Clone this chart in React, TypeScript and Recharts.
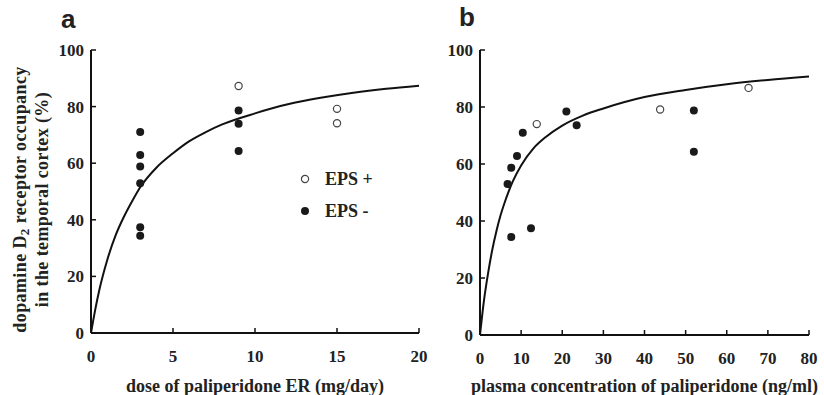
import { ComposedChart, Line, Scatter, XAxis, YAxis, Legend } from "recharts";

// panel a: dose of paliperidone ER (mg/day) vs D2 occupancy (%)
const doseEpsPlus = [
  { x: 9, y: 87.3 },
  { x: 15, y: 79.2 },
  { x: 15, y: 74.1 },
];
const doseEpsMinus = [
  { x: 3, y: 71.0 },
  { x: 3, y: 62.9 },
  { x: 3, y: 58.8 },
  { x: 3, y: 52.9 },
  { x: 3, y: 37.4 },
  { x: 3, y: 34.4 },
  { x: 9, y: 78.6 },
  { x: 9, y: 73.9 },
  { x: 9, y: 64.3 },
];
// fitted curve
const doseCurve = [
  { x: 0, y: 0 },
  { x: 0.25, y: 8 },
  { x: 0.5, y: 15 },
  { x: 1, y: 26 },
  { x: 1.5, y: 34.5 },
  { x: 2, y: 41 },
  { x: 2.5, y: 46.5 },
  { x: 3, y: 51.5 },
  { x: 4, y: 58.5 },
  { x: 5, y: 63.5 },
  { x: 6, y: 67.8 },
  { x: 7, y: 71 },
  { x: 8, y: 73.7 },
  { x: 10, y: 77.6 },
  { x: 12, y: 80.8 },
  { x: 14, y: 83.1 },
  { x: 16, y: 84.9 },
  { x: 18, y: 86.3 },
  { x: 20, y: 87.4 },
];
const doseTicks = [0, 5, 10, 15, 20];

// panel b: plasma concentration (ng/ml) vs D2 occupancy (%)
const plasmaEpsPlus = [
  { x: 13.8, y: 74 },
  { x: 43.8, y: 79.1 },
  { x: 65.3, y: 86.7 },
];
const plasmaEpsMinus = [
  { x: 6.7, y: 53 },
  { x: 7.6, y: 58.7 },
  { x: 9.0, y: 62.8 },
  { x: 10.4, y: 71 },
  { x: 7.6, y: 34.4 },
  { x: 12.4, y: 37.5 },
  { x: 21.0, y: 78.4 },
  { x: 23.5, y: 73.6 },
  { x: 52.0, y: 78.8 },
  { x: 52.0, y: 64.3 },
];
const plasmaCurve = [
  { x: 0, y: 0 },
  { x: 1, y: 12.5 },
  { x: 2, y: 22 },
  { x: 3, y: 30 },
  { x: 4, y: 36.5 },
  { x: 5, y: 42 },
  { x: 6, y: 46.5 },
  { x: 7, y: 50.5 },
  { x: 8, y: 54 },
  { x: 10, y: 59.5 },
  { x: 13, y: 65.5 },
  { x: 16, y: 69.5 },
  { x: 20, y: 73.5 },
  { x: 25, y: 77 },
  { x: 30, y: 79.5 },
  { x: 40, y: 83.5 },
  { x: 50, y: 86 },
  { x: 60, y: 88 },
  { x: 70, y: 89.5 },
  { x: 80, y: 90.7 },
];
const plasmaTicks = [0, 10, 20, 30, 40, 50, 60, 70, 80];
const occupancyTicks = [0, 20, 40, 60, 80, 100];

const FONT = "'Liberation Serif', 'Times New Roman', serif";
const textStyle = { fontFamily: FONT, fontSize: 17, fontWeight: 700, fill: "#222" } as any;
const titleStyle = { ...textStyle, fontSize: 18 };
const axisLine = { stroke: "#111", strokeWidth: 2 };
const tickLine = { stroke: "#111", strokeWidth: 1.5 };

const XTick = (p: any) => (
  <text x={p.x} y={p.y} dy="0.71em" textAnchor="middle" style={textStyle}>
    {p.payload.value}
  </text>
);
const YTick = (p: any) => (
  <text x={p.x} y={p.y} dy="0.355em" textAnchor="end" style={textStyle}>
    {p.payload.value}
  </text>
);

const OpenDot = (p: any) => (
  <circle cx={p.cx} cy={p.cy} r={3.6} fill="#fff" stroke="#444" strokeWidth={1.2} />
);
const FilledDot = (p: any) => <circle cx={p.cx} cy={p.cy} r={4} fill="#1a1a1a" />;

function YLabel(props: any) {
  const vb = props.viewBox;
  const cy = vb.y + vb.height / 2 + 8;
  const style = { ...textStyle, fontSize: 18, letterSpacing: 0.4 };
  return (
    <g>
      <text x={20} y={cy} transform={`rotate(-90, 20, ${cy})`} textAnchor="middle" dominantBaseline="central" style={style}>
        dopamine D<tspan dy={4} fontSize={13}>2</tspan>
        <tspan dy={-4}> receptor occupancy</tspan>
      </text>
      <text x={42} y={cy} transform={`rotate(-90, 42, ${cy})`} textAnchor="middle" dominantBaseline="central" style={style}>
        in the temporal cortex (%)
      </text>
    </g>
  );
}

function LegendBox() {
  const rowStyle = { display: "flex", alignItems: "center", height: 32 };
  const labelStyle = { fontFamily: FONT, fontSize: 18, fontWeight: 700, color: "#222", marginLeft: 15 };
  return (
    <div>
      <div style={rowStyle}>
        <svg width={10} height={10}>
          <circle cx={5} cy={5} r={3.6} fill="#fff" stroke="#444" strokeWidth={1.2} />
        </svg>
        <span style={labelStyle}>EPS +</span>
      </div>
      <div style={rowStyle}>
        <svg width={10} height={10}>
          <circle cx={5} cy={5} r={4} fill="#1a1a1a" />
        </svg>
        <span style={labelStyle}>EPS -</span>
      </div>
    </div>
  );
}

const panelLetter = {
  position: "absolute" as const,
  fontFamily: "'Liberation Sans', Arial, sans-serif",
  fontWeight: 700,
  fontSize: 26,
  color: "#222",
  lineHeight: 1,
};

export default function App() {
  return (
    <div style={{ position: "absolute", left: 0, top: 0, width: 824, height: 395, background: "#fff" }}>
      <div style={{ ...panelLetter, left: 61, top: 6 }}>a</div>
      <div style={{ ...panelLetter, left: 459, top: 4 }}>b</div>

      <div style={{ position: "absolute", left: 0, top: 0 }}>
        <ComposedChart width={430} height={395} margin={{ top: 50, right: 11, bottom: 32, left: 51 }}>
          <XAxis
            type="number"
            dataKey="x"
            domain={[0, 20]}
            ticks={doseTicks}
            height={30}
            tickSize={-5}
            tickMargin={22}
            tick={XTick}
            axisLine={axisLine}
            tickLine={tickLine}
            label={{ value: "dose of paliperidone ER (mg/day)", position: "bottom", offset: 16, style: titleStyle }}
          />
          <YAxis
            type="number"
            dataKey="y"
            domain={[0, 100]}
            ticks={occupancyTicks}
            width={40}
            tickSize={-5}
            tickMargin={12}
            tick={YTick}
            axisLine={axisLine}
            tickLine={tickLine}
            label={{ content: YLabel }}
          />
          <Legend
            layout="vertical"
            verticalAlign="middle"
            align="center"
            content={LegendBox}
            wrapperStyle={{ left: 300, top: 163, width: 100 }}
          />
          <Line data={doseCurve} dataKey="y" type="monotone" stroke="#111" strokeWidth={2} dot={false} isAnimationActive={false} legendType="none" />
          <Scatter data={doseEpsMinus} dataKey="y" shape={FilledDot} isAnimationActive={false} />
          <Scatter data={doseEpsPlus} dataKey="y" shape={OpenDot} isAnimationActive={false} />
        </ComposedChart>
      </div>

      <div style={{ position: "absolute", left: 430, top: 0 }}>
        <ComposedChart width={394} height={395} margin={{ top: 50, right: 15, bottom: 30, left: 10 }}>
          <XAxis
            type="number"
            dataKey="x"
            domain={[0, 80]}
            ticks={plasmaTicks}
            height={30}
            tickSize={-5}
            tickMargin={22}
            tick={XTick}
            axisLine={axisLine}
            tickLine={tickLine}
            label={{ value: "plasma concentration of paliperidone (ng/ml)", position: "bottom", offset: 14, style: titleStyle }}
          />
          <YAxis
            type="number"
            dataKey="y"
            domain={[0, 100]}
            ticks={occupancyTicks}
            width={40}
            tickSize={-5}
            tickMargin={12}
            tick={YTick}
            axisLine={axisLine}
            tickLine={tickLine}
          />
          <Line data={plasmaCurve} dataKey="y" type="monotone" stroke="#111" strokeWidth={2} dot={false} isAnimationActive={false} />
          <Scatter data={plasmaEpsMinus} dataKey="y" shape={FilledDot} isAnimationActive={false} />
          <Scatter data={plasmaEpsPlus} dataKey="y" shape={OpenDot} isAnimationActive={false} />
        </ComposedChart>
      </div>
    </div>
  );
}
